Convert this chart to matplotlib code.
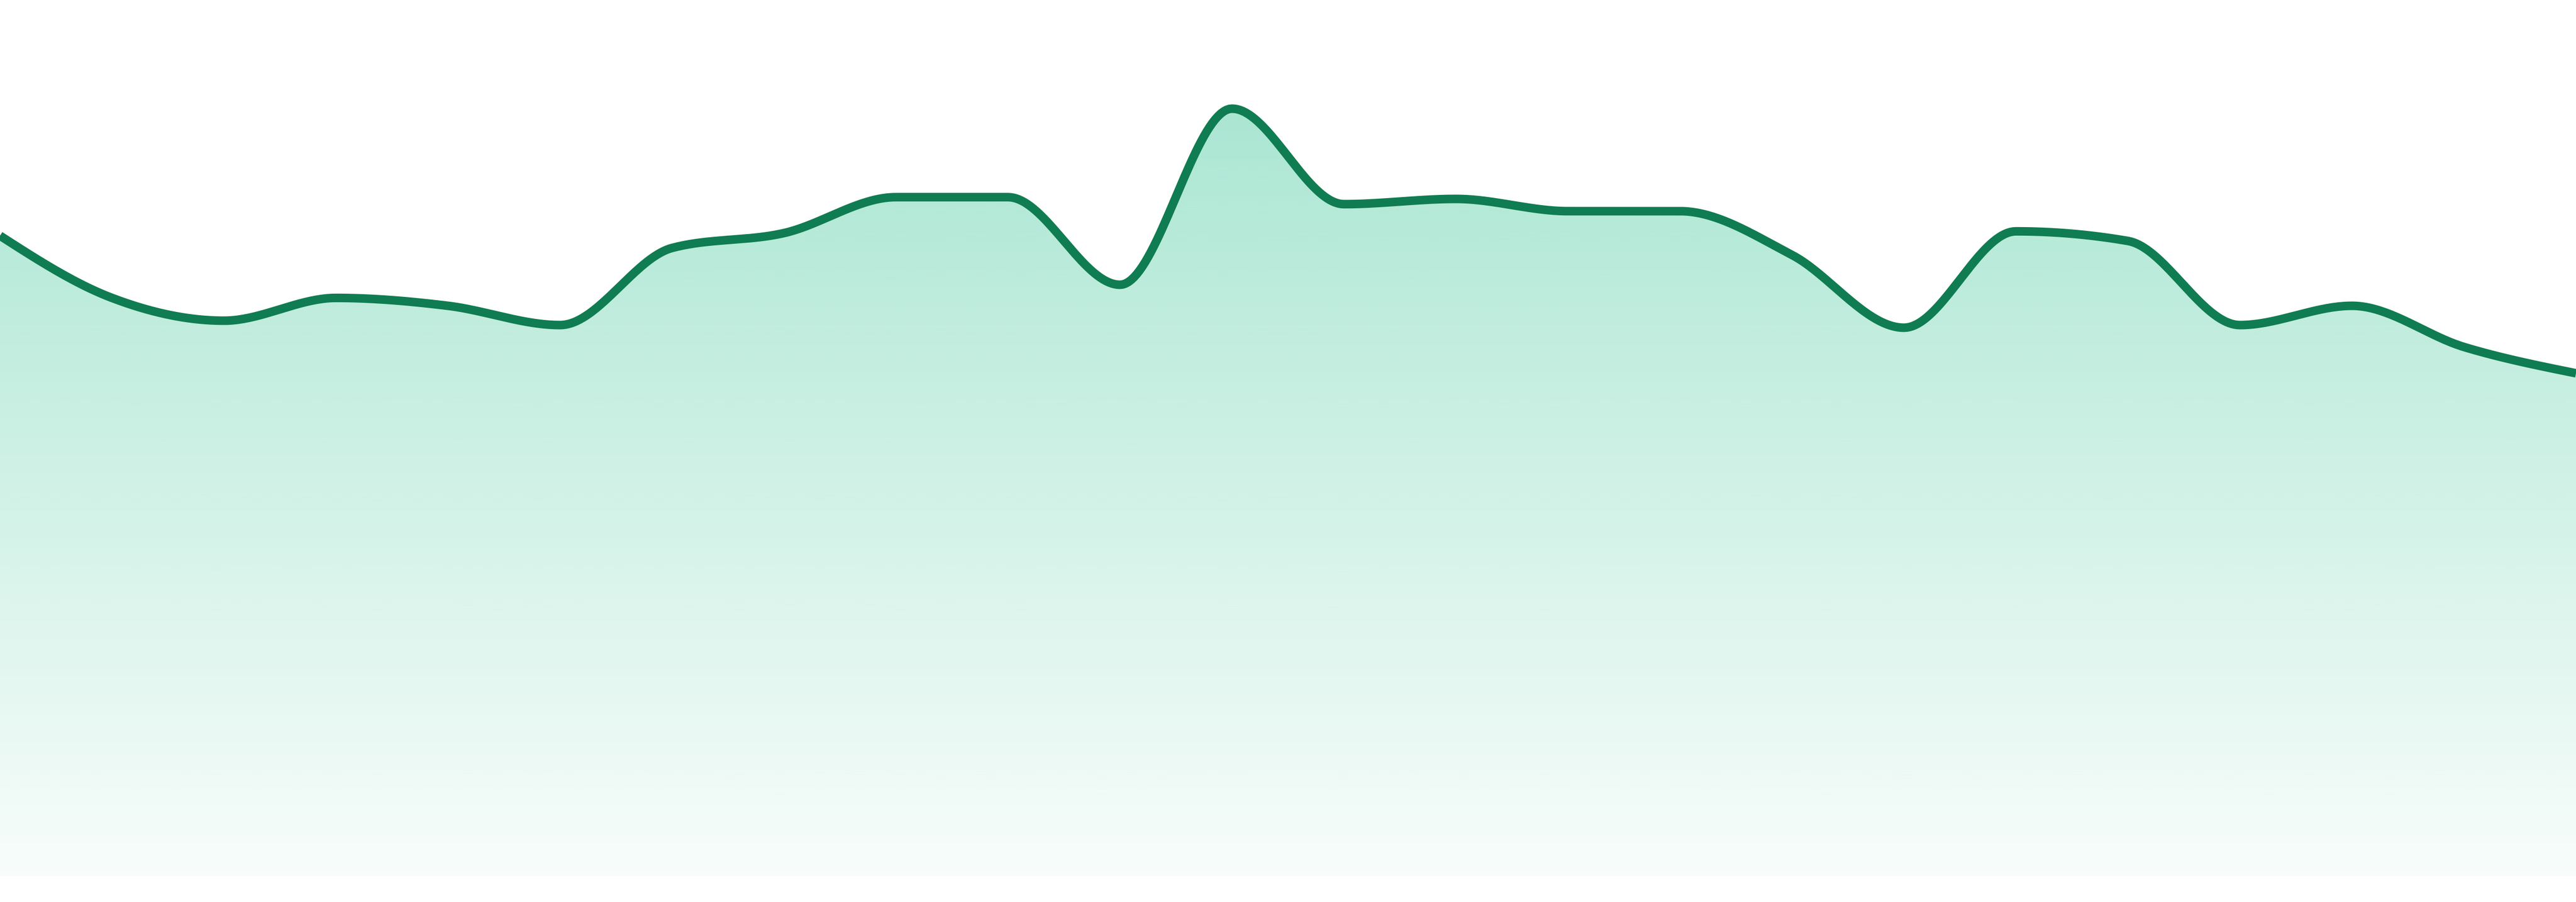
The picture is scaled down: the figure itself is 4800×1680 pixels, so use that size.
import matplotlib
matplotlib.use('Agg')
import matplotlib.pyplot as plt
from matplotlib.patches import Polygon
import numpy as np

# values (0 = baseline, 100 = top of plot area)
x_idx = list(range(24))
values = [73.1, 66.0, 63.4, 66.0, 65.1, 62.9, 71.7, 73.4, 77.5, 77.5, 67.5, 87.6,
          76.7, 77.3, 75.9, 75.9, 70.9, 62.6, 73.6, 72.5, 62.9, 65.1, 60.4, 57.4]

line_color = '#107C52'
fill_color = np.array([16, 185, 129]) / 255.0


def monotone_x(xs, ys, n=40):
    # same idea as d3.curveMonotoneX (Steffen slopes + cubic hermite)
    xs = np.asarray(xs, float)
    ys = np.asarray(ys, float)
    h = np.diff(xs)
    s = np.diff(ys) / h
    t = np.zeros(len(xs))
    for i in range(1, len(xs) - 1):
        p = (s[i - 1] * h[i] + s[i] * h[i - 1]) / (h[i - 1] + h[i])
        t[i] = (np.sign(s[i - 1]) + np.sign(s[i])) * min(abs(s[i - 1]), abs(s[i]), 0.5 * abs(p))
    t[0] = (3 * s[0] - t[1]) / 2
    t[-1] = (3 * s[-1] - t[-2]) / 2
    px, py = [], []
    for i in range(len(xs) - 1):
        u = np.linspace(0, 1, n, endpoint=(i == len(xs) - 2))
        h00 = 2 * u**3 - 3 * u**2 + 1
        h10 = u**3 - 2 * u**2 + u
        h01 = -2 * u**3 + 3 * u**2
        h11 = u**3 - u**2
        px.append(xs[i] + u * h[i])
        py.append(h00 * ys[i] + h10 * h[i] * t[i] + h01 * ys[i + 1] + h11 * h[i] * t[i + 1])
    return np.concatenate(px), np.concatenate(py)


cx, cy = monotone_x(x_idx, values)

fig = plt.figure(figsize=(16, 5.6), dpi=300)
ax = fig.add_axes([0, 48 / 1680, 1, 1632 / 1680])
ax.set_xlim(0, len(values) - 1)
ax.set_ylim(0, 100)
ax.axis('off')

# vertical gradient, clipped to the area under the curve
grad = np.zeros((256, 1, 4))
a = np.linspace(0.40, 0.03, 256)
grad[:, 0, :3] = fill_color
grad[:, 0, 3] = a
img = ax.imshow(grad, extent=[0, len(values) - 1, 0, 100], aspect='auto',
                origin='upper', interpolation='bilinear', zorder=1)
poly = Polygon(np.column_stack([np.r_[cx, cx[-1], cx[0]], np.r_[cy, 0, 0]]),
               closed=True, facecolor='none', edgecolor='none')
ax.add_patch(poly)
img.set_clip_path(poly)

ax.plot(cx, cy, color=line_color, lw=3.84, solid_capstyle='butt',
        solid_joinstyle='round', zorder=2)

fig.savefig('out.png', dpi=300, facecolor='white')
